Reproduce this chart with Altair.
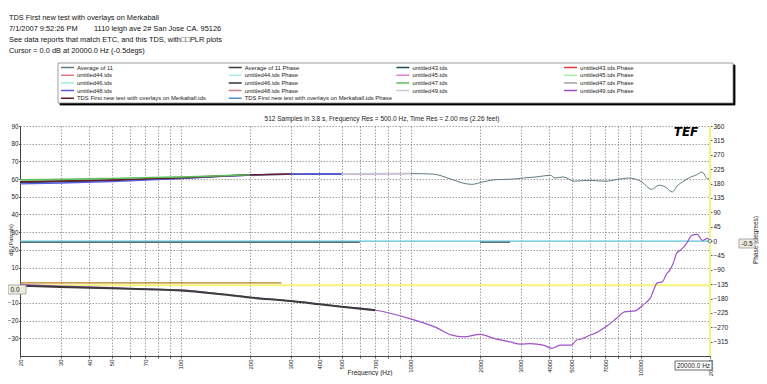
import altair as alt
import pandas as pd

# ---------------- text ----------------
header_lines = [
    "TDS First new test with overlays on Merkaball",
    "7/1/2007 9:52:26 PM" + "\u00a0" * 8 + "1110 leigh ave 2# San Jose CA. 95126",
    "See data reports that match ETC, and this TDS, with\u25a1\u25a1PLR plots",
    "Cursor = 0.0 dB at 20000.0 Hz (-0.5degs)",
]
info_text = "512 Samples in 3.8 s, Frequency Res = 500.0 Hz, Time Res = 2.00 ms (2.26 feet)"

series_names = [
    "Average of 11", "Average of 11 Phase", "untitled43.tds", "untitled43.tds Phase",
    "untitled44.tds", "untitled44.tds Phase", "untitled45.tds", "untitled45.tds Phase",
    "untitled46.tds", "untitled46.tds Phase", "untitled47.tds", "untitled47.tds Phase",
    "untitled48.tds", "untitled48.tds Phase", "untitled49.tds", "untitled49.tds Phase",
    "TDS First new test with overlays on Merkaball.tds",
    "TDS First new test with overlays on Merkaball.tds Phase",
]
series_colors = [
    "#5f7a82", "#3c3c3c", "#1f5058", "#e03a3a",
    "#e07888", "#a8eeee", "#e080d0", "#a8eea8",
    "#9ceee0", "#2e3636", "#5cbf5c", "#a0a0a0",
    "#5a5ae6", "#c48484", "#cfc4dc", "#a050c8",
    "#6a1c1c", "#4a92c2",
]

# ticks
x_grid_values = [20, 30, 40, 50, 60, 70, 80, 90,
                 100, 200, 300, 400, 500, 600, 700, 800, 900,
                 1000, 2000, 3000, 4000, 5000, 6000, 7000, 8000, 9000,
                 10000, 20000]
x_label_values = [20, 30, 40, 50, 70, 100, 200, 300, 400, 500, 700,
                  1000, 2000, 3000, 4000, 5000, 7000, 10000, 20000]
db_ticks = [-30, -20, -10, 10, 20, 30, 40, 50, 60, 70, 80, 90]
phase_ticks = [-315, -270, -225, -180, -135, -90, -45, 0, 45, 90, 135, 180, 225, 270, 315, 360]

# ---------------- magnitude (dB) ----------------
avg_freq = [20, 30, 50, 70, 100, 150, 200, 300, 500, 700, 1000, 1250, 1480, 1680, 1840,
            2060, 2370, 2700, 3090, 3500, 4060, 4240, 4600, 5150, 5960, 7020, 8000, 8850,
            10100, 11140, 12000, 12800, 13700, 14470, 15200, 16500, 17300, 18500, 19500, 20000]
avg_db = [58.4, 58.8, 59.5, 60.1, 60.7, 61.7, 62.3, 62.7, 62.9, 63.0, 63.1, 62.8, 60.2, 57.8, 57.0,
          58.4, 59.7, 59.9, 60.6, 61.2, 62.1, 60.6, 61.2, 58.8, 59.3, 58.8, 59.9, 60.6,
          58.4, 54.2, 56.5, 55.5, 52.7, 56.5, 58.4, 61.2, 62.1, 64.0, 60.2, 61.0]

bundle_freq = [20, 30, 50, 70, 100, 150, 200, 300, 500, 700, 1000]
mag_u44 = [58.7, 59.1, 59.7, 60.2, 60.8, 61.7, 62.3, 62.7, 62.9, 63.1, 63.1]
mag_u45 = [58.9, 59.3, 59.9, 60.4, 60.9, 61.8, 62.4, 62.8, 63.0, 63.1, 63.2]
mag_u46 = [59.1, 59.4, 60.0, 60.5, 61.0, 61.8, 62.4, 62.8, 63.0, 63.2, 63.1]
mag_u49 = [58.2, 58.6, 59.3, 59.9, 60.6, 61.6, 62.3, 62.7, 62.9, 63.0, 63.1]
mag_u43 = [58.0, 58.4, 59.2, 59.8, 60.5, 61.6, 62.3, 62.7, 62.9]
mag_u48 = [57.3, 57.8, 58.6, 59.4, 60.3, 61.5, 62.3, 62.8, 62.9]
mag_tds = [58.5, 58.9, 59.5, 60.1, 60.7, 61.7, 62.4, 62.8]
mag_u47 = [59.6, 59.9, 60.4, 60.8, 61.2, 61.9, 62.4]

# ---------------- phase (degrees) ----------------
ph_freq = [20, 30, 50, 70, 100, 150, 200, 300, 400, 500, 700, 1000, 1300, 1500, 1700, 2000,
           2300, 2700, 3000, 3300, 3770, 4100, 4460, 5000, 5260, 5550, 6000, 6190, 7100, 7850,
           8500, 9440, 10200, 11000, 11800, 12400, 12970, 13360, 14000, 14300, 15000, 15800,
           16700, 17600, 18500, 19500, 20000]
ph_deg = [-136, -141, -146, -150, -153, -166, -176, -187, -197, -205, -216, -244, -272, -294, -300, -292,
          -305, -316, -323, -321, -326, -336, -326, -326, -310, -306, -295, -292, -267, -242,
          -222, -219, -201, -179, -131, -128, -102, -92, -60, -39, -27, -8,
          18, 21, 2, 8, -0.5]

ph_dark_freq = [20, 30, 50, 70, 100, 150, 200, 300, 400, 500, 700]
ph_dark = [-140, -144, -148, -151, -155, -167, -177, -188, -198, -206, -217]

flat_freq = [20, 600, 2000, 2700]
flat_deg = [-3, -3, -3, -3]
flat_seg = ["a", "a", "b", "b"]

orange_freq = [20, 274]
orange_deg = [-131, -131]

cursor_freq = 20000
cursor_db = 0.0
cursor_deg = -0.5

# ---------------- tables ----------------
def table(name, freqs, vals, col):
    return pd.DataFrame({"f": freqs, col: vals, "series": name})

mag_avg_df = table("Average of 11", avg_freq, avg_db, "db")
bundle_df = pd.concat([
    table("untitled44.tds", bundle_freq, mag_u44, "db"),
    table("untitled45.tds", bundle_freq, mag_u45, "db"),
    table("untitled46.tds", bundle_freq, mag_u46, "db"),
    table("untitled49.tds", bundle_freq, mag_u49, "db"),
    table("untitled43.tds", bundle_freq[:len(mag_u43)], mag_u43, "db"),
    table("untitled48.tds", bundle_freq[:len(mag_u48)], mag_u48, "db"),
    table("TDS First new test with overlays on Merkaball.tds", bundle_freq[:len(mag_tds)], mag_tds, "db"),
    table("untitled47.tds", bundle_freq[:len(mag_u47)], mag_u47, "db"),
])
ph_df = table("untitled49.tds Phase", ph_freq, ph_deg, "deg")
ph_dark_df = table("Average of 11 Phase", ph_dark_freq, ph_dark, "deg")
flat_df = pd.DataFrame({"f": flat_freq, "deg": flat_deg, "seg": flat_seg, "series": "untitled46.tds Phase"})
orange_df = pd.DataFrame({"f": orange_freq, "deg": orange_deg})
one = pd.DataFrame({"a": [0]})

FONT = "Liberation Sans"

label_expr = ("indexof([" + ",".join(str(v) for v in x_label_values) +
              "], datum.value) >= 0 ? format(datum.value, 'd') : ''")

x_axis = alt.Axis(values=x_grid_values, labelExpr=label_expr, labelAngle=270, labelAlign="right",
                  labelBaseline="middle", labelOverlap=False, labelFlush=False, labelFont=FONT,
                  labelFontSize=6, labelColor="#222", labelPadding=1, tickSize=2, tickColor="#555",
                  grid=True, gridDash=[1.5, 1.5], gridColor="#8a8a8a", gridWidth=0.8,
                  domainColor="#444", title=None)
left_axis = alt.Axis(values=db_ticks, grid=True, gridDash=[1.5, 1.5], gridColor="#8a8a8a", gridWidth=0.8,
                     labelFont=FONT, labelFontSize=6.3, labelColor="#222", labelPadding=0.5, tickSize=1.5,
                     tickColor="#555", domainColor="#444", title=None)
right_axis = alt.Axis(orient="right", values=phase_ticks, grid=False, labelFont=FONT, labelFontSize=6.5,
                      labelColor="#222", labelPadding=1, tickSize=2, tickColor="#555",
                      domainColor="#888", title=None)

X = alt.X("f:Q", scale=alt.Scale(type="log", domain=[20, 20000], nice=False), axis=x_axis)
YM = alt.Y("db:Q", scale=alt.Scale(domain=[-40, 90], nice=False, zero=False), axis=left_axis)
YP = alt.Y("deg:Q", scale=alt.Scale(domain=[-360, 360], nice=False, zero=False), axis=right_axis)

legend_def = alt.Legend(
    title=None, orient="none", legendX=37, legendY=-64.5, direction="horizontal", columns=4,
    gridAlign="all", symbolType="stroke", symbolSize=169, symbolStrokeWidth=1.5, clipHeight=6,
    rowPadding=1.7, columnPadding=2.7, labelFont=FONT, labelFontSize=5.9, labelColor="#222",
    labelOffset=2, labelLimit=400, padding=3)
C = alt.Color("series:N", scale=alt.Scale(domain=series_names, range=series_colors), legend=legend_def)

# ---------------- magnitude group ----------------
avg_line = alt.Chart(mag_avg_df).mark_line(strokeWidth=1, interpolate="monotone").encode(x=X, y=YM, color=C)
bundle_lines = alt.Chart(bundle_df).mark_line(strokeWidth=1.4, interpolate="monotone").encode(
    x=X, y=YM, color=C, detail="series:N")
yellow_h = alt.Chart(pd.DataFrame({"db": [cursor_db]})).mark_rule(color="#f4f47a", strokeWidth=2).encode(y=YM)
mag_group = alt.layer(yellow_h, avg_line, bundle_lines)

# ---------------- phase group ----------------
orange_line = alt.Chart(orange_df).mark_line(color="#b67e1c", strokeWidth=1.2).encode(x=X, y=YP)
flat_lines = alt.Chart(flat_df).mark_line(strokeWidth=1.5).encode(x=X, y=YP, color=C, detail="seg:N")
cyan_h = alt.Chart(pd.DataFrame({"deg": [cursor_deg]})).mark_rule(color="#5cc4d8", strokeWidth=1.2).encode(y=YP)
purple_line = alt.Chart(ph_df).mark_line(strokeWidth=1.2, interpolate="monotone").encode(x=X, y=YP, color=C)
dark_line = alt.Chart(ph_dark_df).mark_line(strokeWidth=2, interpolate="monotone").encode(x=X, y=YP, color=C)
cursor_pt = alt.Chart(pd.DataFrame({"f": [cursor_freq], "deg": [cursor_deg]})).mark_point(
    shape="circle", size=14, color="#2f5fc0", strokeWidth=1).encode(x=X, y=YP)
yellow_v = alt.Chart(pd.DataFrame({"f": [cursor_freq]})).mark_rule(color="#f4f47a", strokeWidth=2).encode(x=X)
phase_group = alt.layer(orange_line, flat_lines, cyan_h, purple_line, dark_line, yellow_v, cursor_pt)

# ---------------- annotations ----------------
def txt(s, x, y, size=6.5, **kw):
    return alt.Chart(one).mark_text(text=s, font=kw.pop("font", FONT), fontSize=size,
                                    color=kw.pop("color", "#222"), **kw).encode(
        x=alt.value(x), y=alt.value(y))

def box(x1, x2, y1, y2, fill, stroke, sw=0.8):
    return alt.Chart(one).mark_rect(fill=fill, stroke=stroke, strokeWidth=sw).encode(
        x=alt.value(x1), x2=alt.value(x2), y=alt.value(y1), y2=alt.value(y2))

header = txt("\n".join(header_lines), -11, -112.5, size=7.4, align="left", baseline="top",
             lineBreak="\n", lineHeight=11, color="#111")
info = txt(info_text, 362, -7, size=6.5, align="center", baseline="middle")
logo = txt("TEF", 666, 6, size=12, font="DejaVu Sans", fontWeight="bold", fontStyle="italic",
           align="center", baseline="middle", color="#000")
db_title = txt("dB (Pascals)", -9.4, 114, size=5.6, angle=270, align="center", baseline="middle")
ph_title = txt("Phase (degrees)", 736, 114, size=6.5, angle=270, align="center", baseline="middle")
freq_title = txt("Frequency (Hz)", 350, 247, size=6.5, align="center", baseline="middle")
legend_shadow = box(40, 715, -61, -21, "#000", "#000")
legend_frame = box(38, 713, -63, -23, "#ffffff", "#888")
left_box = box(-12, 6, 159, 168, "#ecebdc", "#999")
left_val = txt("0.0", -5, 163.5, size=6.5, align="center", baseline="middle")
right_box = box(719, 735, 113, 122, "#ecebdc", "#999")
right_val = txt("-0.5", 727, 117.5, size=6.5, align="center", baseline="middle")
hz_box = box(655, 692, 235, 244, "#ffffff", "#444")
hz_val = txt("20000.0 Hz", 673.5, 239.5, size=6.5, align="center", baseline="middle")

chart = alt.layer(
    legend_shadow, legend_frame, mag_group, phase_group,
    header, info, logo, db_title, ph_title, freq_title,
    left_box, left_val, right_box, right_val, hz_box, hz_val,
).resolve_scale(y="independent").properties(
    width=690, height=230, autosize="none",
    padding={"left": 12, "top": 118, "right": 49, "bottom": 20},
    background="white",
).configure_view(strokeWidth=0)

chart.save("out.html", embed_options={"renderer": "svg", "actions": False})
